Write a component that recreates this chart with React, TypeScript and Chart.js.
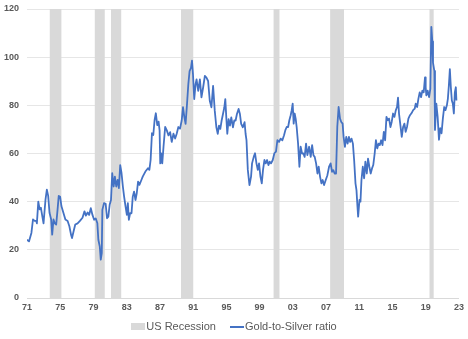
import React, { useEffect, useRef } from "react";
import { Chart, registerables } from "chart.js";

Chart.register(...registerables);

// Decimal-year positions of the gold-to-silver ratio readings
const ratioDates = [
  1971.0, 1971.24, 1971.53, 1971.72, 1971.92, 1972.12, 1972.19, 1972.36, 1972.52, 1972.67,
  1972.84, 1972.99, 1973.23, 1973.39, 1973.55, 1973.71, 1973.91, 1974.03, 1974.19, 1974.34,
  1974.51, 1974.66, 1974.82, 1974.99, 1975.14, 1975.38, 1975.62, 1975.89, 1976.1, 1976.3,
  1976.42, 1976.61, 1976.81, 1977.09, 1977.37, 1977.68, 1977.92, 1978.09, 1978.3, 1978.48,
  1978.68, 1978.88, 1979.08, 1979.28, 1979.47, 1979.59, 1979.76, 1979.88, 1980.0, 1980.07,
  1980.27, 1980.47, 1980.63, 1980.79, 1980.95, 1981.11, 1981.26, 1981.43, 1981.58, 1981.74,
  1981.91, 1982.06, 1982.22, 1982.38, 1982.54, 1982.69, 1982.86, 1983.02, 1983.14, 1983.26,
  1983.41, 1983.58, 1983.73, 1983.89, 1984.06, 1984.21, 1984.37, 1984.53, 1984.77, 1984.93,
  1985.25, 1985.56, 1985.73, 1985.88, 1986.04, 1986.2, 1986.36, 1986.51, 1986.68, 1986.84,
  1986.96, 1987.04, 1987.16, 1987.28, 1987.43, 1987.63, 1987.83, 1988.03, 1988.23, 1988.42,
  1988.63, 1988.83, 1989.02, 1989.22, 1989.42, 1989.62, 1989.78, 1989.94, 1990.09, 1990.26,
  1990.42, 1990.57, 1990.74, 1990.86, 1990.98, 1991.13, 1991.29, 1991.41, 1991.61, 1991.81,
  1992.0, 1992.2, 1992.41, 1992.6, 1992.8, 1993.0, 1993.2, 1993.4, 1993.6, 1993.79,
  1993.96, 1994.11, 1994.27, 1994.43, 1994.59, 1994.75, 1994.87, 1994.99, 1995.11, 1995.27,
  1995.43, 1995.59, 1995.79, 1995.95, 1996.11, 1996.27, 1996.47, 1996.63, 1996.78, 1996.98,
  1997.19, 1997.31, 1997.42, 1997.58, 1997.78, 1997.97, 1998.09, 1998.3, 1998.45, 1998.62,
  1998.78, 1998.93, 1999.1, 1999.26, 1999.41, 1999.58, 1999.74, 1999.9, 2000.06, 2000.22,
  2000.38, 2000.58, 2000.78, 2000.97, 2001.14, 2001.34, 2001.53, 2001.74, 2001.94, 2002.1,
  2002.26, 2002.43, 2002.58, 2002.74, 2002.86, 2002.98, 2003.1, 2003.22, 2003.34, 2003.46,
  2003.63, 2003.79, 2003.94, 2004.11, 2004.27, 2004.42, 2004.59, 2004.75, 2004.96, 2005.15,
  2005.32, 2005.48, 2005.63, 2005.8, 2005.96, 2006.11, 2006.28, 2006.44, 2006.59, 2006.76,
  2006.96, 2007.16, 2007.36, 2007.55, 2007.72, 2007.87, 2008.03, 2008.2, 2008.35, 2008.51,
  2008.68, 2008.83, 2008.99, 2009.11, 2009.27, 2009.43, 2009.59, 2009.75, 2009.9, 2010.06,
  2010.23, 2010.38, 2010.54, 2010.66, 2010.78, 2010.86, 2011.02, 2011.14, 2011.26, 2011.42,
  2011.58, 2011.73, 2011.9, 2012.05, 2012.21, 2012.37, 2012.53, 2012.68, 2012.85, 2013.0,
  2013.16, 2013.32, 2013.47, 2013.63, 2013.79, 2013.95, 2014.11, 2014.27, 2014.42, 2014.58,
  2014.75, 2014.9, 2015.06, 2015.23, 2015.39, 2015.54, 2015.66, 2015.78, 2015.95, 2016.11,
  2016.27, 2016.43, 2016.58, 2016.74, 2016.91, 2017.1, 2017.3, 2017.48, 2017.67, 2017.79,
  2017.96, 2018.11, 2018.27, 2018.44, 2018.59, 2018.75, 2018.91, 2018.99, 2019.07, 2019.23,
  2019.4, 2019.55, 2019.67, 2019.79, 2019.87, 2020.03, 2020.11, 2020.27, 2020.43, 2020.59,
  2020.74, 2020.9, 2021.06, 2021.22, 2021.37, 2021.54, 2021.66, 2021.78, 2021.9, 2022.02,
  2022.14, 2022.26, 2022.38, 2022.5, 2022.62, 2022.69,
];

// Gold-to-silver ratio values
const ratioValues = [
  24.2, 23.5, 27, 32.6, 32, 32, 31, 40, 36.8, 37.5,
  34, 31, 41, 45, 42.4, 35.4, 32.6, 26.3, 32.6, 31,
  30.5, 36, 42.4, 42, 38.2, 35.4, 32.6, 32, 29.8, 26.3,
  24.9, 27.7, 30.5, 31, 32, 33.3, 36, 34.2, 35.5, 34.5,
  37.3, 34.5, 32.5, 33, 31, 24.2, 21.4, 15.9, 18.6, 36.6,
  39.4, 39.1, 33.1, 33.8, 38.7, 40.7, 51.8, 46.3, 50.4, 46.3,
  49, 45.6, 55.2, 51.8, 46.3, 42.1, 38, 34.5, 39.4, 32.5,
  35.2, 35.2, 42.1, 44.2, 40.7, 43.5, 48.3, 47, 49, 50.4,
  52.5, 53.9, 53.2, 57.3, 68.4, 67.7, 73.9, 76.7, 71.8, 73.2,
  69.6, 55.9, 60, 55.9, 62.7, 71, 69.6, 67.5, 68.9, 64.8,
  68.2, 66.2, 68.2, 71, 70.3, 73.7, 79.2, 75.1, 72.3, 80.5,
  88.8, 94.2, 95.6, 98.6, 92.9, 82.6, 88.8, 90.8, 86, 90.8,
  83.3, 87.4, 92.2, 91.5, 90.1, 81.9, 79.2, 88.1, 77.8, 71,
  68.2, 71.6, 70.2, 73.7, 76.4, 79.1, 82.6, 75, 68.2, 74.3,
  71.6, 75, 70.9, 73.7, 73.7, 76.4, 78.5, 76.4, 72.3, 70.9,
  73, 68.2, 65.6, 53.2, 46.9, 50.4, 55.9, 58.7, 60.1, 55.9,
  53.2, 55.9, 50.4, 47.6, 53.2, 57.3, 55.9, 57.3, 55.2, 56.6,
  55.9, 57.3, 60.1, 60.8, 65.5, 64.8, 66.2, 65.5, 67.6, 69.7,
  71, 71, 73.8, 75.9, 77.9, 80.7, 72.4, 76.6, 74.5, 71,
  64.1, 54.5, 62.8, 60, 60, 58.6, 64.1, 59.3, 62.8, 58.6,
  63.5, 59.3, 58.6, 55.9, 51.7, 54.5, 50.3, 47.6, 49, 46.9,
  49, 51, 54.5, 55.9, 52.4, 53.1, 51.7, 51.7, 71, 79.3,
  74.5, 73.1, 72.4, 66.9, 62.8, 66.9, 64.1, 66.9, 64.8, 66.2,
  64.1, 57.2, 47.6, 44.8, 37.9, 33.8, 40.7, 40, 49, 54.5,
  49.7, 56.6, 51.7, 57.9, 54.5, 51.7, 53.8, 55.2, 60, 65.5,
  62.1, 64.1, 63.5, 65.5, 63.5, 69, 65.5, 75.2, 73.8, 74.5,
  71, 73.1, 76.6, 75.2, 77.9, 79.3, 83.2, 76.6, 71.7, 66.9,
  71, 72.4, 69, 71, 74.5, 75.9, 76.8, 78, 78.6, 80.7,
  79.3, 82.7, 85.4, 83.4, 86.1, 85.4, 91.6, 87.5, 84.1, 86.1,
  83.4, 86.8, 112.6, 106.5, 97.7, 94.3, 69.8, 80.7, 75.2, 65.7,
  70.5, 68.4, 74.6, 79.3, 78, 80, 82.7, 88.2, 95, 87.5,
  82, 80.7, 76.6, 85.4, 87.5, 82,
];

const recessionStarts = [1973.71, 1979.16, 1981.11, 1989.54, 2000.68, 2007.49, 2019.45];
const recessionEnds = [1975.14, 1980.36, 1982.34, 1991.01, 2001.39, 2009.16, 2019.97];

const xTickYears = [1971, 1975, 1979, 1983, 1987, 1991, 1995, 1999, 2003, 2007, 2011, 2015, 2019, 2023];
const yTickValues = [0, 20, 40, 60, 80, 100, 120];

const seriesNames = ["US Recession", "Gold-to-Silver ratio"];

const LINE_COLOR = "#4472C4";
const RECESSION_COLOR = "#D9D9D9";
const TEXT_COLOR = "#595959";
const FONT = "'Liberation Sans', Arial, sans-serif";

export default function App() {
  const canvasRef = useRef<HTMLCanvasElement | null>(null);

  useEffect(() => {
    const canvas = canvasRef.current;
    if (!canvas) return;
    const yMin = yTickValues[0];
    const yMax = yTickValues[yTickValues.length - 1];

    const ratioData = ratioDates.map((d, i) => ({ x: d, y: ratioValues[i] }));
    const recessionData: { x: number; y: number }[] = [];
    recessionStarts.forEach((s, i) => {
      const e = recessionEnds[i];
      recessionData.push({ x: s, y: yMin }, { x: s, y: yMax }, { x: e, y: yMax }, { x: e, y: yMin });
    });

    const chart = new Chart(canvas, {
      type: "line",
      data: {
        datasets: [
          {
            label: seriesNames[1],
            data: ratioData,
            borderColor: LINE_COLOR,
            borderWidth: 1.8,
            pointRadius: 0,
            tension: 0,
            fill: false,
            order: 0,
            borderJoinStyle: "round",
          },
          {
            label: seriesNames[0],
            data: recessionData,
            borderColor: "rgba(0,0,0,0)",
            backgroundColor: RECESSION_COLOR,
            borderWidth: 0,
            pointRadius: 0,
            tension: 0,
            fill: "origin",
            order: 1,
          },
        ],
      },
      options: {
        responsive: false,
        animation: false,
        devicePixelRatio: 1,
        layout: { padding: { top: 9, right: 5.5, left: 0, bottom: 0 } },
        plugins: {
          legend: { display: false },
          tooltip: { enabled: false },
        },
        scales: {
          x: {
            type: "linear",
            min: xTickYears[0],
            max: xTickYears[xTickYears.length - 1],
            afterFit: (s: any) => {
              s.height = 41;
            },
            afterBuildTicks: (s: any) => {
              s.ticks = xTickYears.map((v) => ({ value: v }));
            },
            grid: { display: false, drawTicks: false },
            border: { display: false },
            ticks: {
              autoSkip: false,
              maxRotation: 0,
              padding: 4,
              color: TEXT_COLOR,
              font: { family: FONT, size: 9, weight: "bold" },
              callback: (v: any) => String(v).slice(2),
            },
          },
          y: {
            min: yMin,
            max: yMax,
            afterFit: (s: any) => {
              s.width = 27;
              s.paddingTop = 0;
              s.paddingBottom = 0;
            },
            afterBuildTicks: (s: any) => {
              s.ticks = yTickValues.map((v) => ({ value: v }));
            },
            grid: {
              color: (ctx: any) => (ctx.tick && ctx.tick.value === 0 ? "#D9D9D9" : "#E6E6E6"),
              drawTicks: false,
              lineWidth: 1,
            },
            border: { display: false },
            ticks: {
              padding: 8,
              color: TEXT_COLOR,
              font: { family: FONT, size: 9, weight: "bold" },
            },
          },
        },
      },
    });
    return () => chart.destroy();
  }, []);

  return (
    <div
      style={{
        position: "fixed",
        left: 0,
        top: 0,
        width: 468,
        height: 339,
        background: "#fff",
        fontFamily: FONT,
      }}
    >
      <canvas ref={canvasRef} width={468} height={339} style={{ display: "block" }} />
      <div
        style={{
          position: "absolute",
          left: 0,
          top: 320,
          width: 468,
          height: 13,
          display: "flex",
          justifyContent: "center",
          alignItems: "center",
          fontSize: 11,
          color: TEXT_COLOR,
          lineHeight: "13px",
          whiteSpace: "nowrap",
        }}
      >
        <span style={{ display: "inline-block", width: 14, height: 7, background: RECESSION_COLOR, marginRight: 1 }} />
        <span>{seriesNames[0]}</span>
        <span style={{ display: "inline-block", width: 14, height: 2, background: LINE_COLOR, marginLeft: 14, marginRight: 1 }} />
        <span>{seriesNames[1]}</span>
      </div>
    </div>
  );
}
